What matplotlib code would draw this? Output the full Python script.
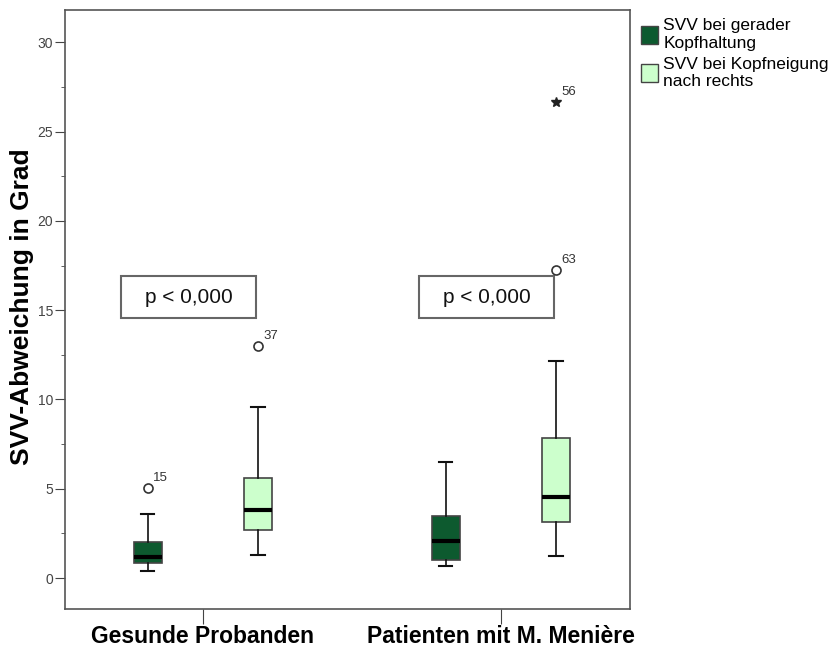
import matplotlib.pyplot as plt
from matplotlib.patches import Patch, Rectangle

plt.rcParams['font.family'] = ['Liberation Sans', 'DejaVu Sans']

# groups and series
groups = ["Gesunde Probanden", "Patienten mit M. Menière"]
series = ["SVV bei gerader\nKopfhaltung", "SVV bei Kopfneigung\nnach rechts"]
colors = ["#0d5a2f", "#ccffcc"]

# box stats: [whislo, q1, median, q3, whishi]
gerade = [[0.37, 0.86, 1.19, 2.03, 3.57],
          [0.69, 1.01, 2.07, 3.47, 6.49]]
neigung = [[1.27, 2.72, 3.84, 5.60, 9.57],
           [1.25, 3.12, 4.52, 7.87, 12.14]]

# outliers: (group, series, value, case label, marker)
outliers = [(0, 0, 5.02, "15", "o"),
            (0, 1, 12.98, "37", "o"),
            (1, 1, 17.27, "63", "o"),
            (1, 1, 26.65, "56", "*")]

p_text = ["p < 0,000", "p < 0,000"]

fig = plt.figure(figsize=(8.32, 6.51), dpi=100)
ax = fig.add_axes([0.078, 0.0645, 0.679, 0.92])

offset = 0.185
width = 0.094
centers = [1, 2]

for s, data in enumerate([gerade, neigung]):
    stats = []
    for g, vals in enumerate(data):
        stats.append(dict(whislo=vals[0], q1=vals[1], med=vals[2], q3=vals[3], whishi=vals[4]))
    pos = [c + (offset if s else -offset) for c in centers]
    ax.bxp(stats, positions=pos, widths=width, showfliers=False, patch_artist=True,
           boxprops=dict(facecolor=colors[s], edgecolor="#444444", linewidth=1.2),
           medianprops=dict(color="black", linewidth=3),
           whiskerprops=dict(color="#111111", linewidth=1.2),
           capprops=dict(color="#111111", linewidth=1.5),
           capwidths=width * 0.48)

for g, s, v, lab, m in outliers:
    x = centers[g] + (offset if s else -offset)
    if m == "o":
        ax.plot(x, v, marker="o", markersize=6.5, markerfacecolor="white",
                markeredgecolor="#333333", markeredgewidth=1.2, linestyle="none")
    else:
        ax.plot(x, v, marker="*", markersize=7, color="#222222", linestyle="none")
    ax.annotate(lab, (x, v), xytext=(4, 5), textcoords="offset points",
                fontsize=9.5, color="#333333")

# p-value boxes
for c, t in zip(centers, p_text):
    x0 = c - 0.275
    rect = Rectangle((x0, 14.55), 0.455, 2.35, facecolor="white",
                     edgecolor="#666666", linewidth=1.5)
    ax.add_patch(rect)
    ax.text(x0 + 0.2275, 15.72, t, ha="center", va="center", fontsize=15, color="#111111")

ax.set_xlim(0.537, 2.433)
ax.set_ylim(-1.73, 31.8)
ax.set_yticks([0, 5, 10, 15, 20, 25, 30])
ax.set_yticks([2.5, 7.5, 12.5, 17.5, 22.5, 27.5], minor=True)
ax.set_xticks(centers)
ax.set_xticklabels(groups, fontsize=16.5, fontweight="bold")
ax.set_ylabel("SVV-Abweichung in Grad", fontsize=19, fontweight="bold")
ax.yaxis.set_label_coords(-0.054, 0.504)
ax.tick_params(axis="y", labelsize=10, labelcolor="#444444", length=7.5, color="#444444", pad=1)
ax.tick_params(axis="y", which="minor", length=3, color="#444444")
ax.tick_params(axis="x", length=11, color="#444444", pad=0.5)
for sp in ax.spines.values():
    sp.set_color("#555555")
    sp.set_linewidth(1.2)

handles = [Patch(facecolor=colors[i], edgecolor="#444444", label=series[i]) for i in range(2)]
fig.legend(handles=handles, loc="upper left", bbox_to_anchor=(0.766, 0.977), frameon=False,
           fontsize=12.5, handlelength=1.0, handleheight=1.2, handletextpad=0.3,
           borderaxespad=0, borderpad=0.2, labelspacing=0.35)

fig.savefig("out.png", dpi=100)
